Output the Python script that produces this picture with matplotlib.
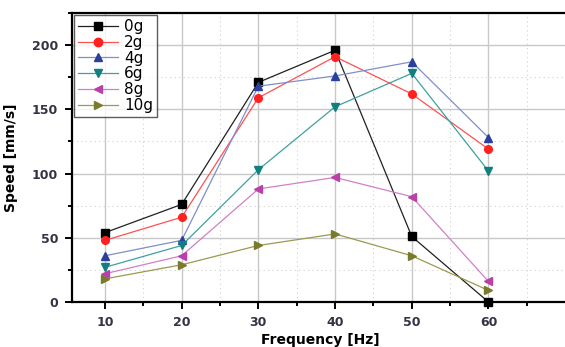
import matplotlib
matplotlib.use("Agg")
import matplotlib.pyplot as plt
from matplotlib.ticker import FixedLocator, MultipleLocator

freq = [10, 20, 30, 40, 50, 60]
speed_0g = [54, 76, 171, 196, 51, 0]
speed_2g = [48, 66, 159, 191, 162, 119]
speed_4g = [36, 48, 168, 176, 187, 128]
speed_6g = [27, 44, 103, 152, 178, 102]
speed_8g = [22, 36, 88, 97, 82, 16]
speed_10g = [18, 29, 44, 53, 36, 9]
labels = ["0g", "2g", "4g", "6g", "8g", "10g"]

series = [speed_0g, speed_2g, speed_4g, speed_6g, speed_8g, speed_10g]
markers = ["s", "o", "^", "v", "<", ">"]
mcolors = ["#000000", "#ff2020", "#2a3f9e", "#0f7f7f", "#b840a8", "#7a7a2c"]
lcolors = ["#202020", "#ff5050", "#7f8fc8", "#40a0a0", "#d080c8", "#9a9a50"]

fig = plt.figure(figsize=(5.65, 3.47), dpi=100)
ax = fig.add_axes([72 / 565, 1 - 302 / 347, (569 - 72) / 565, (302 - 13) / 347])

for y, m, mc, lc, lab in zip(series, markers, mcolors, lcolors, labels):
    ax.plot(freq, y, color=lc, lw=0.9, marker=m, markersize=5.5,
            markerfacecolor=mc, markeredgecolor=mc, label=lab, clip_on=False, zorder=3)

ax.set_xlim(5.7, 70.5)
ax.set_ylim(0, 225)
ax.xaxis.set_major_locator(FixedLocator(freq))
ax.xaxis.set_minor_locator(FixedLocator([15, 25, 35, 45, 55, 65]))
ax.yaxis.set_major_locator(MultipleLocator(50))
ax.yaxis.set_minor_locator(MultipleLocator(25))
ax.grid(which="major", color="#c8c8c8", lw=1.0)
ax.grid(which="minor", color="#d0d0d0", lw=0.8, ls=(0, (1, 3)))
ax.set_axisbelow(True)

for s in ["left", "bottom", "top"]:
    ax.spines[s].set_linewidth(1.6)
ax.spines["right"].set_visible(False)

ax.tick_params(which="both", direction="out", top=False, right=False, width=1.4, colors="black",
               labelcolor="#333344")
ax.tick_params(which="major", length=5, labelsize=9, pad=5)
ax.tick_params(which="minor", length=3)
for t in ax.get_xticklabels() + ax.get_yticklabels():
    t.set_fontweight("bold")

ax.set_xlabel("Frequency [Hz]", fontsize=10, fontweight="bold", labelpad=3)
ax.set_ylabel("Speed [mm/s]", fontsize=10, fontweight="bold", labelpad=10)

leg = ax.legend(loc="upper left", bbox_to_anchor=(0.0, 1.0), fontsize=11, frameon=True,
                fancybox=False, edgecolor="#333333", handlelength=2.6, handletextpad=0.4,
                labelspacing=0.05, borderpad=0.25, borderaxespad=0.15, markerscale=1.1)
leg.get_frame().set_linewidth(1.0)

fig.savefig("out.png", dpi=100)
